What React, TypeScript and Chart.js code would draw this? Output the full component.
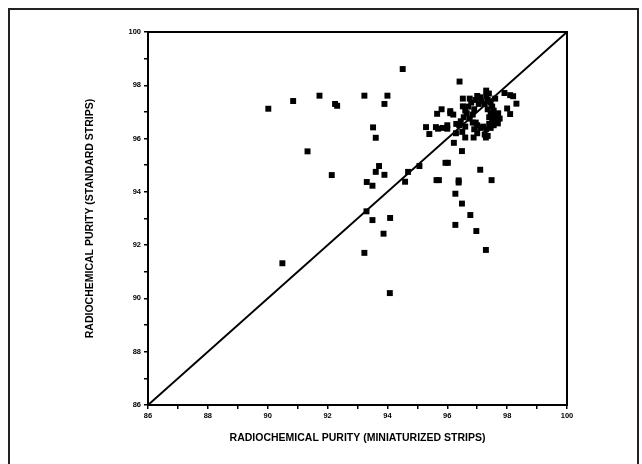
import { useEffect, useRef } from 'react';
import { Chart, registerables } from 'chart.js';

Chart.register(...registerables);

// Scattered individual measurements (miniaturized strips, standard strips)
const miniX = [
  94.51, 96.41, 90.02, 90.85, 91.73, 92.25, 92.32, 93.23, 94.0, 93.9,
  93.52, 93.61, 91.33, 92.14, 93.72, 93.61, 93.9, 93.31, 93.5, 94.69,
  94.59, 95.07, 93.3, 93.5, 94.09, 93.87, 93.23, 90.49, 94.08, 95.64,
  95.72, 95.94, 96.02, 96.38, 96.38, 96.27, 96.49, 96.77, 96.27, 96.97,
  97.29, 97.1, 97.48, 96.49, 96.22, 95.4, 95.29, 95.62, 95.69, 96.0,
  96.29, 96.6, 96.88, 97.29, 95.66, 95.81, 96.1, 96.52, 96.52, 97.3,
  97.39, 97.91, 98.1, 98.2, 98.31, 98.0, 98.1, 97.69,
];
const standardY = [
  98.61, 98.14, 97.12, 97.41, 97.61, 97.3, 97.23, 97.61, 97.61, 97.3,
  96.42, 96.03, 95.52, 94.63, 94.97, 94.75, 94.64, 94.37, 94.23, 94.75,
  94.38, 94.97, 93.27, 92.94, 93.02, 92.43, 91.71, 91.32, 90.2, 94.44,
  94.44, 95.09, 95.09, 94.43, 94.35, 93.93, 93.56, 93.13, 92.76, 92.53,
  91.82, 94.83, 94.44, 95.53, 95.84, 96.17, 96.43, 96.43, 96.37, 96.37,
  96.2, 96.04, 96.04, 96.04, 96.93, 97.1, 97.03, 97.5, 97.21, 97.8,
  97.69, 97.71, 97.63, 97.59, 97.31, 97.13, 96.92, 96.57,
];

// Dense cluster near 97 / 96.8
const clusterX = [
  96.7, 96.8, 96.9, 96.95, 97.05, 97.15, 97.25, 97.35, 97.45, 97.5,
  97.55, 97.45, 97.6, 97.5, 97.65, 97.4, 97.45, 97.3, 97.2, 97.1,
  97.0, 96.9, 96.85, 96.75, 96.85, 96.65, 96.55, 96.45, 96.4, 96.3,
  96.6, 97.0, 97.25, 97.35, 97.55, 97.7, 97.4, 97.35, 97.0, 97.6,
  96.2, 96.1, 96.0, 95.85, 96.75, 96.6, 97.1, 97.3, 97.6, 96.95,
  96.5, 97.75,
];
const clusterY = [
  97.2, 97.35, 97.1, 97.45, 97.3, 97.4, 97.3, 97.45, 97.35, 97.2,
  97.05, 96.95, 96.85, 96.7, 96.6, 96.55, 96.4, 96.35, 96.45, 96.4,
  96.5, 96.35, 96.6, 96.75, 96.9, 96.95, 96.8, 96.65, 96.5, 96.55,
  96.45, 96.2, 96.15, 96.1, 96.5, 96.95, 96.8, 97.1, 97.6, 97.5,
  96.9, 96.95, 96.5, 96.4, 97.5, 97.05, 97.55, 97.6, 96.75, 96.6,
  96.25, 96.75,
];

const identityLine = [86, 100];
const axisMin = 86;
const axisMax = 100;
const xTitle = 'RADIOCHEMICAL PURITY (MINIATURIZED STRIPS)';
const yTitle = 'RADIOCHEMICAL PURITY (STANDARD STRIPS)';

const boxPlugin = {
  id: 'plotBox',
  afterDraw(chart: any) {
    const { ctx, chartArea } = chart;
    ctx.save();
    ctx.strokeStyle = '#000';
    ctx.lineWidth = 2;
    ctx.strokeRect(chartArea.left, chartArea.top, chartArea.right - chartArea.left, chartArea.bottom - chartArea.top);
    ctx.restore();
  },
};

export default function App() {
  const ref = useRef<HTMLCanvasElement | null>(null);

  useEffect(() => {
    if (!ref.current) return;
    const points = [
      ...miniX.map((x, i) => ({ x, y: standardY[i] })),
      ...clusterX.map((x, i) => ({ x, y: clusterY[i] })),
    ];
    const tickFont = { family: 'Liberation Sans, Arial, sans-serif', size: 7.5, weight: 'bold' as const };
    const titleFont = { family: 'Liberation Sans, Arial, sans-serif', size: 10.5, weight: 'bold' as const };
    const chart = new Chart(ref.current, {
      type: 'scatter',
      data: {
        datasets: [
          {
            type: 'line',
            data: identityLine.map((v) => ({ x: v, y: v })),
            borderColor: '#000',
            borderWidth: 2,
            pointRadius: 0,
            fill: false,
          } as any,
          {
            data: points,
            pointStyle: 'rect',
            pointRadius: 4.2,
            pointBackgroundColor: '#000',
            pointBorderColor: '#000',
            pointBorderWidth: 0,
          },
        ],
      },
      options: {
        animation: false,
        responsive: false,
        layout: { padding: { left: 80, right: 75, top: 32, bottom: 20 } },
        plugins: { legend: { display: false }, tooltip: { enabled: false } },
        scales: {
          x: {
            type: 'linear',
            min: axisMin,
            max: axisMax,
            ticks: {
              stepSize: 1,
              color: '#000',
              font: tickFont,
              padding: 2,
              maxRotation: 0,
              autoSkip: false,
              callback: (v: any) => (Number(v) % 2 === 0 ? String(v) : ''),
            },
            grid: { display: true, drawOnChartArea: false, drawTicks: true, tickLength: 4, color: '#000', lineWidth: 1.5 },
            border: { display: true, color: '#000', width: 2 },
            title: { display: true, text: xTitle, color: '#000', font: titleFont, padding: 0 },
            afterFit: (s: any) => { s.height = 39; },
          },
          y: {
            type: 'linear',
            min: axisMin,
            max: axisMax,
            ticks: {
              stepSize: 1,
              color: '#000',
              font: tickFont,
              padding: 3,
              autoSkip: false,
              callback: (v: any) => (Number(v) % 2 === 0 ? String(v) : ''),
            },
            grid: { display: true, drawOnChartArea: false, drawTicks: true, tickLength: 4, color: '#000', lineWidth: 1.5 },
            border: { display: true, color: '#000', width: 2 },
            title: { display: true, text: yTitle, color: '#000', font: titleFont, padding: 4 },
            afterFit: (s: any) => { s.width = 68; },
          },
        },
      },
      plugins: [boxPlugin],
    });
    return () => chart.destroy();
  }, []);

  return (
    <div>
      <div
        style={{
          position: 'fixed',
          left: 8,
          top: 8,
          width: 631,
          height: 470,
          boxSizing: 'border-box',
          borderTop: '2px solid #222',
          borderLeft: '2px solid #222',
          borderRight: '2px solid #222',
          background: '#fff',
        }}
      />
      <canvas
        ref={ref}
        width={642}
        height={464}
        style={{ position: 'fixed', left: 0, top: 0, width: 642, height: 464 }}
      />
    </div>
  );
}
